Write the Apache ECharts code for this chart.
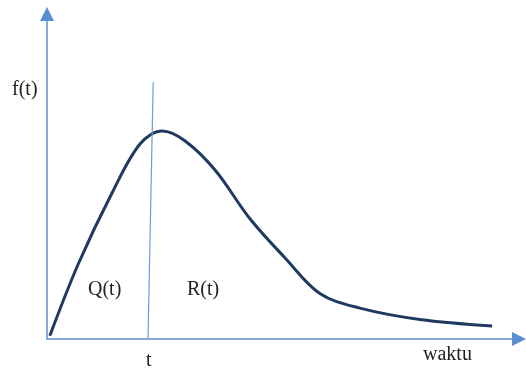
<!DOCTYPE html>
<html>
<head>
<meta charset="utf-8">
<script src="https://cdn.jsdelivr.net/npm/echarts@6/dist/echarts.min.js"></script>
<style>
  html, body { margin: 0; padding: 0; background: #fff; }
  #chart { width: 526px; height: 368px; }
</style>
</head>
<body>
<div id="chart"></div>
<script>
// kurva f(t) terhadap waktu
const waktu = [0.06, 0.66, 1.38, 1.97, 2.44, 2.92, 3.56, 4.3, 5.04, 5.78, 6.63, 7.9, 9.43];
const ft = [0.01, 0.23, 0.45, 0.6, 0.64, 0.61, 0.52, 0.37, 0.25, 0.14, 0.095, 0.06, 0.04];
// garis batas t
const tLineX = [2.14, 2.25];
const tLineY = [0, 0.79];

const axisBlue = "#5B8ED0";
const serif = "'Liberation Serif', 'DejaVu Serif', serif";

const chart = echarts.init(document.getElementById("chart"));

const axisCommon = {
  axisLine: {
    show: true,
    symbol: ["none", "triangle"],
    symbolSize: [14, 14],
    lineStyle: { color: axisBlue, width: 1.5 },
  },
  axisTick: { show: false },
  axisLabel: { show: false },
  splitLine: { show: false },
};

const options = {
  animation: false,
  grid: { left: 47, right: 7, top: 14, bottom: 29 },
  xAxis: { type: "value", min: 0, max: 10, ...axisCommon },
  yAxis: { type: "value", min: 0, max: 1, ...axisCommon },
  series: [
    {
      type: "line",
      data: waktu.map((x, i) => [x, ft[i]]),
      smooth: 0.35,
      symbol: "none",
      lineStyle: { color: "#1F3A60", width: 3 },
    },
    {
      type: "line",
      data: tLineX.map((x, i) => [x, tLineY[i]]),
      symbol: "none",
      lineStyle: { color: "#6C9BD6", width: 1.2 },
    },
  ],
  graphic: [
    { type: "text", left: 12, top: 80, style: { text: "f(t)", font: "20px " + serif, fill: "#222" } },
    { type: "text", left: 88, top: 280, style: { text: "Q(t)", font: "20px " + serif, fill: "#222" } },
    { type: "text", left: 187, top: 280, style: { text: "R(t)", font: "20px " + serif, fill: "#222" } },
    { type: "text", left: 146, top: 351, style: { text: "t", font: "20px " + serif, fill: "#222" } },
    { type: "text", left: 423, top: 345, style: { text: "waktu", font: "20px " + serif, fill: "#222" } },
  ],
};

chart.setOption(options);
</script>
</body>
</html>
